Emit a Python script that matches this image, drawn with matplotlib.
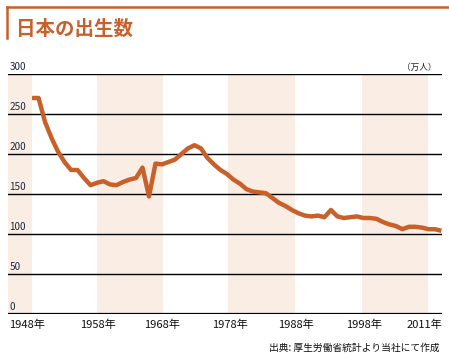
import matplotlib
matplotlib.use("Agg")
import matplotlib.pyplot as plt
from matplotlib.lines import Line2D

plt.rcParams['font.family'] = ['Noto Sans CJK JP', 'DejaVu Sans']

# births per year (10,000 people)
years = list(range(1948, 2012))
births = [270, 270, 240, 220, 203, 190, 180, 180, 170, 161,
          164, 166, 162, 161, 165, 168, 170, 183, 147, 188,
          187, 190, 193, 200, 207, 211, 207, 195, 187, 180,
          175, 168, 163, 156, 153, 152, 151, 145, 139, 135,
          130, 126, 123, 122, 123, 121, 130, 122, 120, 121,
          122, 120, 120, 119, 115, 112, 110, 106, 109, 109,
          108, 106, 106, 104]

yticks = [0, 50, 100, 150, 200, 250, 300]
xlabels = ['1948年', '1958年', '1968年', '1978年', '1988年', '1998年']
xlabel_pos = [1947.3, 1958.1, 1968.0, 1978.4, 1988.6, 1999.1]
last_label = '2011年'
# shaded decades
bands = [(1940, 1948), (1958, 1968.2), (1978.2, 1988.5), (1998.8, 2008.9)]

orange = '#c9602a'
W, H = 449, 363

fig = plt.figure(figsize=(W / 100, H / 100), dpi=100)
ax = fig.add_axes([8 / W, 49 / H, 434 / W, 240 / H])

xmin, xmax = 1944.3, 2011.1
for a, b in bands:
    ax.axvspan(max(a, xmin), b, ymin=0, ymax=1, color='#faede3', lw=0, zorder=0)

for v in yticks[1:]:
    ax.axhline(v, color='black', lw=1.0, zorder=1)
ax.axhline(0, color='black', lw=1.6, zorder=1)

ax.plot(years, births, color=orange, lw=3.2, solid_capstyle='butt', zorder=3)

ax.set_xlim(xmin, xmax)
ax.set_ylim(0, 300)
ax.axis('off')

# y tick labels sit just above the grid lines
for v in yticks:
    ax.text(xmin + 0.2, v + 2.5, str(v), fontsize=7.2, color='#1c2a44',
            ha='left', va='bottom', zorder=4)
ax.text(xmax - 0.8, 302.5, '（万人）', fontsize=6.2, color='#222222',
        ha='right', va='bottom')

for p, lab in zip(xlabel_pos, xlabels):
    ax.text(p, -7, lab, fontsize=8, color='#111111', ha='center', va='top')
ax.text(xmax, -7, last_label, fontsize=8, color='#111111', ha='right', va='top')

fig.text(440 / W, 1 - 348 / H, '出典: 厚生労働省統計より当社にて作成', fontsize=7,
         color='#111111', ha='right', va='center')

# title block with the orange frame
fig.text(16 / W, 1 - 29 / H, '日本の出生数', fontsize=14, fontweight='bold',
         color=orange, ha='left', va='center')
fig.add_artist(Line2D([7 / W, 7 / W], [1 - 7 / H, 1 - 38 / H], color=orange, lw=1.8))
fig.add_artist(Line2D([7 / W, 1.0], [1 - 7 / H, 1 - 7 / H], color=orange, lw=1.8))

fig.savefig('out.png', dpi=100)
